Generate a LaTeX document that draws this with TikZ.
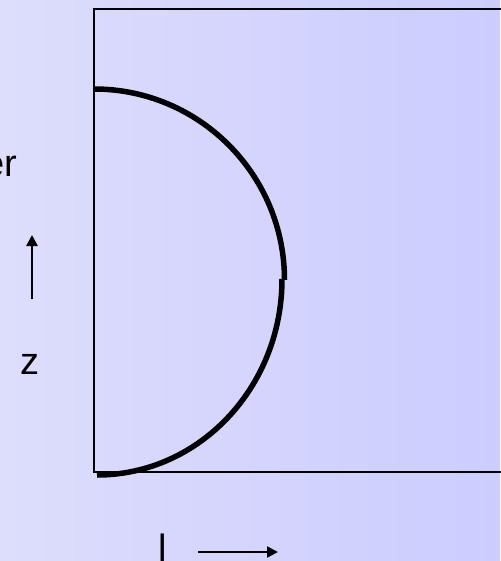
\documentclass[tikz,border=0pt]{standalone}
\usepackage{fontspec}
\setmainfont{Liberation Sans}
\usetikzlibrary{arrows.meta}
\definecolor{bgleft}{RGB}{221,221,252}
\definecolor{bgright}{RGB}{204,204,255}
\tikzset{
  frame/.style={draw=black, line width=2.2pt},
  thickarc/.style={draw=black, line width=5.5pt},
  axisarrow/.style={draw=black, line width=2.4pt, -{Triangle[length=11pt,width=11pt]}},
  lbl/.style={inner sep=0pt, font=\fontsize{38}{40}\selectfont}
}
\begin{document}
\begin{tikzpicture}[x=1pt,y=-1pt]
\useasboundingbox (0,0) rectangle (500,561);
\shade[left color=bgleft, right color=bgright] (0,0) rectangle (500,561);
% frame
\draw[frame] (94,9) rectangle (520,472);
% upper arc
\draw[thickarc] (94,89) arc[start angle=-90, end angle=0, x radius=190.5, y radius=191];
% lower arc
\draw[thickarc] (282,279) arc[start angle=0, end angle=90, x radius=185, y radius=196];
% labels
\node[lbl, anchor=east] (er) at (17.5,166) {er};
\node[lbl] (z) at (30,364) {z};
\node[lbl, anchor=north] (l) at (163,534) {l};
% arrows
\coordinate (zfrom) at (32,299);
\coordinate (zto) at (32,235);
\draw[axisarrow] (zfrom) -- (zto);
\coordinate (lfrom) at (198,552);
\coordinate (lto) at (278,552);
\draw[axisarrow] (lfrom) -- (lto);
\end{tikzpicture}
\end{document}
